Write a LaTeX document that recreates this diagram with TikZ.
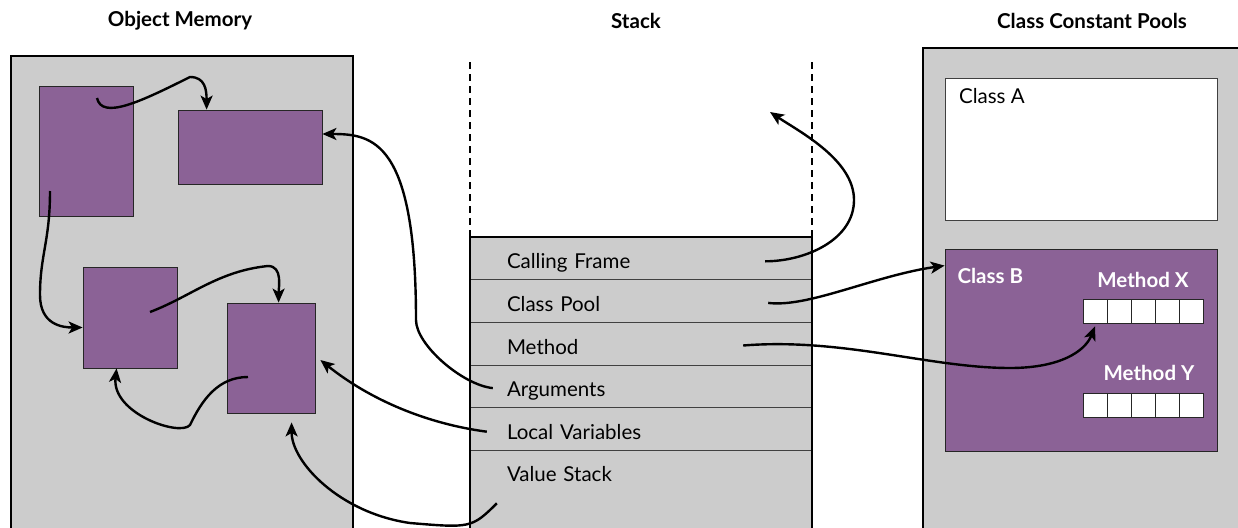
\documentclass[tikz,border=0pt]{standalone}
\usepackage{fontspec}
\setmainfont{Lato}
\usetikzlibrary{arrows.meta}
\definecolor{objpurple}{RGB}{139,98,150}
\definecolor{memgray}{RGB}{204,204,204}
\tikzset{
  pane/.style = {rectangle, draw=black, fill=memgray, line width=2.2pt,
    inner sep=0pt},% outer areas
  obj/.style = {rectangle, draw=black!85, fill=objpurple, line width=0.8pt,
    inner sep=0pt},% objects in memory
  whitebox/.style = {rectangle, draw=black!75, fill=white, line width=0.8pt,
    inner sep=0pt},
  cell/.style = {rectangle, draw=black!85, fill=white, line width=0.8pt,
    minimum width=24pt, minimum height=24pt, inner sep=0pt},
  title/.style = {font=\fontsize{20.5}{24}\selectfont\bfseries},
  slot/.style = {rectangle, fill=memgray, minimum width=342pt,
    minimum height=42.6pt, text width=268pt, inner xsep=37pt, inner ysep=0pt,
    align=left, text height=21pt, text depth=0pt,
    font=\fontsize{20.5}{24}\selectfont},% stack rows
  sep/.style = {line width=0.9pt, black!75},
  rim/.style = {line width=2.2pt},
  rimdash/.style = {line width=1.8pt, dash pattern=on 7pt off 5pt},
  wlabel/.style = {text=white, font=\fontsize{20.5}{24}\selectfont\bfseries},
  ptr/.style = {-{Stealth[length=14pt,width=12pt,inset=3.5pt]}, line width=2.4pt},
}

\begin{document}
\begin{tikzpicture}[x=1pt,y=-1pt]
  \useasboundingbox (0,0) rectangle (1238,527);
  \clip (0,0) rectangle (1238,527);
%   titles
  \node[title] (tMem) at (180,21) {Object Memory};
  \node[title] (tStack) at (636,21) {Stack};
  \node[title] (tPools) at (1092,21) {Class Constant Pools};

%   object memory
  \node[pane, minimum width=342pt, minimum height=484pt] (mem) at (182,298) {};
  \node[obj, minimum width=94pt, minimum height=130pt] (objA) at (86,151) {};
  \node[obj, minimum width=144pt, minimum height=74pt] (objB) at (250,147) {};
  \node[obj, minimum width=94pt, minimum height=101pt] (objC) at (130,317.5) {};
  \node[obj, minimum width=88pt, minimum height=110pt] (objD) at (271,358) {};

%   stack
  \fill[memgray] (470,237) rectangle (812,540);
  \node[slot] (frame) at (641,258.3) {Calling Frame};
  \node[slot] (pool) at (641,300.9) {Class Pool};
  \node[slot] (method) at (641,343.5) {Method};
  \node[slot] (args) at (641,386.1) {Arguments};
  \node[slot] (locals) at (641,428.7) {Local Variables};
  \node[slot] (value) at (641,471.3) {Value Stack};
  \foreach \r in {frame,pool,method,args,locals}
    \draw[sep] (\r.south west) -- (\r.south east);
  \draw[rim] (470,540) -- (470,237) -- (812,237) -- (812,540);
  \draw[rimdash] (470,62) -- (470,237);
  \draw[rimdash] (812,62) -- (812,237);

%   class constant pools
  \node[pane, minimum width=327pt, minimum height=492pt] (pools) at (1086.5,294) {};
  \node[whitebox, minimum width=272pt, minimum height=142pt] (classA) at (1081,149) {};
  \node[anchor=north west, font=\fontsize{20.5}{24}\selectfont] (lblA)
    at ([xshift=11pt,yshift=-7pt]classA.north west) {Class A};
  \node[obj, minimum width=272pt, minimum height=202pt] (classB) at (1081,350) {};
  \node[wlabel, anchor=west] (lblB) at (954,276) {Class B};
  \node[wlabel] (lblX) at (1143,280) {Method X};
  \node[wlabel] (lblY) at (1149,373) {Method Y};
  \foreach \i in {0,...,4}{
    \node[cell] (mx\i) at (1095+24*\i,311) {};
    \node[cell] (my\i) at (1095+24*\i,405) {};
  }

%   pointers inside object memory
  \coordinate (aS) at (97,98);
  \coordinate (aD) at (50,191);
  \coordinate (cS) at (150,312);
  \coordinate (dS) at (248,377);
  \draw[ptr] (aS) .. controls +(5,22) and +(-50,25) .. (190,77)
    .. controls +(15,0) and +(0,-20) .. ([xshift=29pt]objB.north west);
  \draw[ptr] (aD) .. controls +(0,50) and +(0,-40) .. (40,295)
    .. controls +(0,30) and +(-20,0) .. ([yshift=-10pt]objC.west);
  \draw[ptr] (cS) .. controls +(40,-15) and +(-50,5) .. (268,266)
    .. controls +(15,0) and +(0,-15) .. ([xshift=52pt]objD.north west);
  \draw[ptr] (dS) .. controls +(-30,0) and +(12,-25) .. (190,425)
    .. controls +(-10,12) and +(-5,45) .. ([xshift=34pt]objC.south west);

%   pointers out of the stack
  \coordinate (cfEnd) at (770,112);
  \draw[ptr] ([xshift=-47pt,yshift=-3pt]frame.east) .. controls +(40,0) and +(0,40) .. (854,200)
    .. controls +(0,-40) and +(30,20) .. (cfEnd);
  \draw[ptr] ([xshift=-44pt,yshift=-2pt]pool.east) .. controls +(40,5) and +(-70,10)
    .. ([yshift=-17pt]classB.north west);
  \draw[ptr] ([xshift=-69pt,yshift=-2pt]method.east) .. controls +(100,-8) and +(-80,0) .. (1010,368)
    .. controls +(50,0) and +(-10,25) .. ([yshift=-3pt]mx0.south);
  \draw[ptr] ([xshift=23pt,yshift=-2pt]args.west) .. controls +(-30,-3) and +(0,25) .. (416,320)
    .. controls +(0,-180) and +(50,0) .. ([yshift=13pt]objB.east);
  \draw[ptr] ([xshift=17pt,yshift=-3pt]locals.west) .. controls +(-60,-8) and +(50,40)
    .. ([xshift=5pt,yshift=-2pt]objD.east);
  \draw[ptr] ([xshift=27pt,yshift=-32pt]value.west) .. controls +(-25,25) and +(60,5) .. (410,523)
    .. controls +(-70,-10) and +(0,40) .. ([xshift=65pt,yshift=-9pt]objD.south west);
\end{tikzpicture}
\end{document}
